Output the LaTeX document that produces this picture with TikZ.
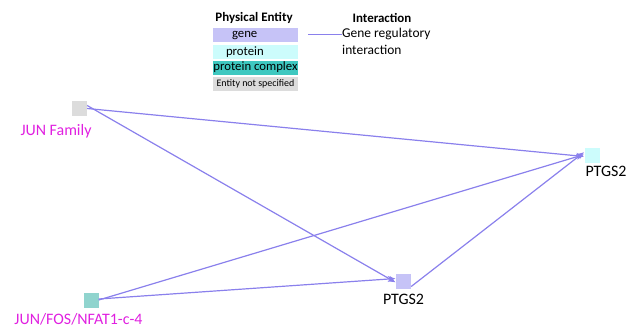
\documentclass[tikz,border=0pt]{standalone}
\usepackage{fontspec}
\setmainfont{Carlito}
\usetikzlibrary{arrows.meta}
\definecolor{genec}{HTML}{C6C3F7}
\definecolor{protc}{HTML}{CCFCFC}
\definecolor{cplxc}{HTML}{3EC8C0}
\definecolor{nspc}{HTML}{DCDCDC}
\definecolor{cplxn}{HTML}{90D4CE}
\definecolor{edgec}{HTML}{8A80EC}
\definecolor{magc}{HTML}{E020E0}
\tikzset{
  ent/.style={minimum width=15bp, minimum height=15bp, inner sep=0pt, draw=none},
  leg/.style={minimum width=85bp, minimum height=14bp, inner sep=0pt, font=\fontsize{12.8}{13}\selectfont},
  lbl/.style={font=\fontsize{16}{18}\selectfont, inner sep=0pt},
  reg/.style={draw=edgec, line width=1.2bp, -{Stealth[length=7.5bp,width=6bp]}, shorten >=0.5bp},
}
\begin{document}
\begin{tikzpicture}[x=1bp,y=-1bp]
\useasboundingbox (0,0) rectangle (627,327);
% legend
\node[font=\bfseries\fontsize{13}{14}\selectfont, inner sep=0pt] (hpe) at (254,18) {Physical Entity};
\node[leg, fill=genec, text width=85bp, align=left] (lgene) at (255.5,35) {\hspace*{19bp}gene};
\node[leg, fill=protc, text width=85bp, align=left] (lprot) at (255.5,52) {\hspace*{13bp}protein};
\node[leg, fill=cplxc] (lcplx) at (255.5,67.5) {protein complex};
\node[leg, fill=nspc, font=\fontsize{10}{10}\selectfont] (lnsp) at (255.5,84) {Entity not specified};
\node[font=\bfseries\fontsize{13}{14}\selectfont, inner sep=0pt] (hint) at (382,18) {Interaction};
\node[anchor=north west, inner sep=0pt, align=left, font=\fontsize{13.5}{17}\selectfont] (lint) at (342,28) {Gene regulatory\\interaction};
\coordinate (ls) at (308,34.5);
\draw[draw=edgec, line width=1.2bp] (ls) -- (lint.west |- ls);
% entities
\node[ent, fill=nspc] (jun) at (79.5,108.5) {};
\node[lbl, text=magc] (junl) at (56,131) {JUN Family};
\node[ent, fill=protc] (pr) at (592,155) {};
\node[lbl] (prl) at (606,171) {PTGS2};
\node[ent, fill=cplxn] (jf) at (91,300) {};
\node[lbl, text=magc] (jfl) at (78.5,319) {JUN/FOS/NFAT1-c-4};
\node[ent, fill=genec] (pg) at (403.5,281.5) {};
\node[lbl] (pgl) at (403.5,299) {PTGS2};
% edges
\draw[reg] (jun.east) -- ([yshift=-1.5bp]pr.west);
\draw[reg] ([yshift=3bp]jun.east) -- ([yshift=-1bp]pg.west);
\draw[reg] (jf.east) -- ([yshift=0.5bp]pr.west);
\draw[reg] ([yshift=1bp]jf.east) -- ([yshift=3bp]pg.west);
\draw[reg] ([yshift=-5bp]pg.east) -- ([yshift=3bp]pr.west);
\end{tikzpicture}
\end{document}
